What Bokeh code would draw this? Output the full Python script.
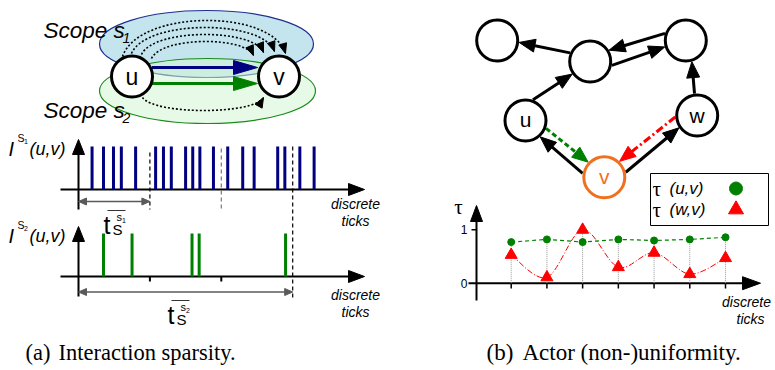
import math
from bokeh.plotting import figure
from bokeh.models import Range1d, Grid
from bokeh.core.properties import value
from bokeh.embed import file_html
from bokeh.resources import INLINE

W, H = 775, 370

# ---------------- data ----------------
# (a) interaction events of u->v on the discrete tick axis, per scope
s1_events = [1.9, 3.5, 4.9, 6.0, 8.0, 10.8, 11.9, 13.0, 15.0, 16.0, 17.0,
             18.9, 20.9, 23.0, 24.6, 27.9, 28.9, 31.0, 33.0]
s2_events = [3.5, 7.5, 15.9, 16.9, 29.0]
period_marks = [10, 20, 30]          # tick boundaries shown as dashed lines
t_bar_s1 = 10                        # mean interaction gap, scope s1
t_bar_s2 = 30                        # mean interaction gap, scope s2
# (b) actor uniformity tau over discrete ticks
tau_ticks = [1, 2, 3, 4, 5, 6, 7]
tau_uv = [0.77, 0.82, 0.77, 0.82, 0.80, 0.82, 0.86]
tau_wv = [0.53, 0.11, 1.00, 0.30, 0.57, 0.17, 0.47]
tau_tick_values = [0, 1]
tau_tick_labels = ["0", "1"]


def rng(v0, p0, v1, p1, total, vertical=False):
    k = (v1 - v0) / (p1 - p0)
    a = v0 - p0 * k
    b = v0 + (total - p0) * k
    return Range1d(b, a) if vertical else Range1d(a, b)


p = figure(width=W, height=H, x_range=Range1d(0, W), y_range=Range1d(H, 0),
           output_backend="svg", toolbar_location=None, min_border=0,
           x_axis_location=None, y_axis_location=None)
p.outline_line_color = None
p.background_fill_color = "white"
p.border_fill_color = "white"
for r in list(p.renderers) + list(p.center):
    if isinstance(r, Grid):
        r.visible = False
p.xgrid.visible = False
p.ygrid.visible = False

p.extra_x_ranges = {"tl": rng(0, 78, 10, 149.4, W), "tk": rng(1, 510.7, 7, 725, W)}
p.extra_y_ranges = {"i1": rng(0, 189, 1, 146, H, True),
                    "i2": rng(0, 276, 1, 233, H, True),
                    "tau": rng(0, 282.7, 1, 229.3, H, True)}

SANS = value("Liberation Sans")
SERIF = value("Liberation Serif")


def txt(x, yb, s, size, font=SANS, style="normal", align="left",
        color="black", xr="default", yr="default"):
    """yb is the intended alphabetic baseline; drawn with middle baseline."""
    p.text(x=[x], y=[yb - 0.30 * size], text=[s], text_font=font,
           text_font_size=f"{size}px", text_font_style=style, text_align=align,
           text_baseline="middle", text_color=color, x_range_name=xr, y_range_name=yr)


def ctxt(x, y, s, size, font=SANS, style="normal", align="center", color="black"):
    p.text(x=[x], y=[y], text=[s], text_font=font, text_font_size=f"{size}px",
           text_font_style=style, text_align=align, text_baseline="middle",
           text_color=color)


def head(tx, ty, ux, uy, L, Wd, color):
    bx, by = tx - ux * L, ty - uy * L
    nx, ny = -uy, ux
    p.patch([tx, bx + nx * Wd / 2, bx - nx * Wd / 2],
            [ty, by + ny * Wd / 2, by - ny * Wd / 2],
            fill_color=color, line_color=color, line_width=1)


def arrow(x0, y0, x1, y1, color="black", lw=2, dash="solid", L=14, Wd=12, both=False):
    d = math.hypot(x1 - x0, y1 - y0)
    ux, uy = (x1 - x0) / d, (y1 - y0) / d
    sx, sy = (x0 + ux * L * 0.7, y0 + uy * L * 0.7) if both else (x0, y0)
    p.line([sx, x1 - ux * L * 0.7], [sy, y1 - uy * L * 0.7],
           line_color=color, line_width=lw, line_dash=dash)
    head(x1, y1, ux, uy, L, Wd, color)
    if both:
        head(x0, y0, -ux, -uy, L, Wd, color)


# ================= panel (a) =================
p.ellipse(x=[206], y=[43.5], width=[214], height=[67], fill_color="#c4e5ee",
          line_color="#1f2f8f", line_width=1.2)
p.ellipse(x=[207], y=[90.5], width=[216], height=[65], fill_color="#d4f5d4",
          fill_alpha=0.55, line_color="#1a8a1a", line_width=1.2)

arcs = [(122, 56, 285, 53, 20), (131, 53, 274, 51, 27), (141, 54, 263, 52, 34),
        (151, 58, 253, 55, 41), (142, 97, 263, 97, 110)]
for sx, sy, ex, ey, pk in arcs:
    h = (pk - 0.125 * sy - 0.125 * ey) / 0.75
    c0x, c1x = sx + 0.1 * (ex - sx), ex - 0.08 * (ex - sx)
    p.bezier(x0=[sx], y0=[sy], x1=[ex], y1=[ey], cx0=[c0x], cy0=[h], cx1=[c1x], cy1=[h],
             line_color="black", line_width=1.6, line_dash="2 2")
    d = math.hypot(ex - c1x, ey - h)
    head(ex, ey, (ex - c1x) / d, (ey - h) / d, 10, 8, "black")

arrow(151.5, 67, 257, 67, "#000080", 3, L=24, Wd=14)
arrow(151.5, 83, 257, 83, "#008000", 3, L=24, Wd=14)

p.circle(x=[131.5, 278.5], y=[76, 76], radius=20.5, fill_color="white",
         line_color="black", line_width=3)
ctxt(131.5, 76, "u", 23)
ctxt(278.5, 76, "v", 23)

txt(43, 37, "Scope s", 22.5, style="italic")
txt(122, 42, "1", 14, style="italic")
txt(43, 117, "Scope s", 22.5, style="italic")
txt(122, 122, "2", 14, style="italic")

for base, top, bottom in [(189, 139, 209), (276, 226, 296)]:
    arrow(60, base, 364, base, "black", 2, L=16, Wd=12)
    arrow(78, bottom, 78, top, "black", 2, L=15, Wd=12)

p.segment(x0=s1_events, y0=[0] * len(s1_events), x1=s1_events, y1=[1] * len(s1_events),
          x_range_name="tl", y_range_name="i1", line_color="#000080", line_width=3)
p.segment(x0=s2_events, y0=[0] * len(s2_events), x1=s2_events, y1=[1] * len(s2_events),
          x_range_name="tl", y_range_name="i2", line_color="#008000", line_width=3)

p.segment(x0=period_marks, y0=[152, 148, 146], x1=period_marks, y1=[209, 209, 297],
          x_range_name="tl", line_color=["black", "#777777", "black"],
          line_width=1.2, line_dash="4 3")
p.segment(x0=period_marks[:2], y0=[276, 276], x1=period_marks[:2], y1=[281, 281],
          x_range_name="tl", line_color="black", line_width=2)

tl = p.extra_x_ranges["tl"]
k_tl = W / (tl.end - tl.start)
for tb, yy in [(t_bar_s1, 201), (t_bar_s2, 291.5)]:
    x_end = (tb - tl.start) * k_tl
    arrow(78, yy, x_end, yy, "#5a5a5a", 1.5, L=8, Wd=7, both=True)


def tbar(x, yb, sub):
    txt(x, yb, "t", 25)
    txt(x + 9, yb + 1, "S", 15)
    txt(x + 13, yb - 12, "s", 11)
    txt(x + 18.5, yb - 10, sub, 7)
    p.line([x + 4, x + 22], [yb - 22, yb - 22], line_color="#333333", line_width=1)


tbar(103, 232, "1")
tbar(167, 322, "2")

for yb, sub in [(154, "1"), (241, "2")]:
    txt(8, yb, "I", 20, style="italic")
    txt(17, yb - 13, "S", 10.5)
    txt(23.5, yb - 11, sub, 7)
    txt(29, yb, "(u,v)", 18, style="italic")

for cx, y1 in [(355, 203), (355, 294)]:
    ctxt(cx, y1, "discrete", 14, style="italic")
    ctxt(cx, y1 + 17, "ticks", 14, style="italic")

txt(25, 359, "(a)", 22.5, font=SERIF)
txt(58, 359, "Interaction sparsity.", 22.5, font=SERIF)

# ================= panel (b) =================
nodes = {"A": (496.7, 40), "B": (589.7, 61), "C": (685.3, 40),
         "u": (525, 120), "w": (696.7, 115), "v": (603.8, 176.7)}
R_OUT = 22


def ring(n, ang):
    cx, cy = nodes[n]
    a = math.radians(ang)
    return cx + R_OUT * math.cos(a), cy + R_OUT * math.sin(a)


edges = [("B", -157, "A", 5, "black", "solid"),
         ("C", -161, "B", -31, "black", "solid"),
         ("B", 10, "C", 163, "black", "solid"),
         ("u", -70, "B", 145, "black", "solid"),
         ("w", -97, "C", 74, "black", "solid"),
         ("v", -170, "u", 48, "black", "solid"),
         ("v", -13, "w", 146, "black", "solid"),
         ("u", 21, "v", -137, "#008000", "5 3"),
         ("w", 176, "v", -46, "#ff0000", "8 3 2 3")]
for a, ta, b, tb_, col, dash in edges:
    x0, y0 = ring(a, ta)
    x1, y1 = ring(b, tb_)
    arrow(x0, y0, x1, y1, col, 3, dash, L=16, Wd=13)

names = list(nodes)
p.circle(x=[nodes[n][0] for n in names], y=[nodes[n][1] for n in names], radius=20.5,
         fill_color="white", line_width=3,
         line_color=["#f07020" if n == "v" else "black" for n in names])
ctxt(525, 119, "u", 21)
ctxt(696.7, 115, "w", 21)
ctxt(603.8, 176, "v", 21, color="#f07020")

p.quad(left=[650], right=[768], top=[173], bottom=[225], fill_color="white",
       line_color="black", line_width=1)
for yy, lab in [(188, "(u,v)"), (209, "(w,v)")]:
    ctxt(652, yy, "τ", 21, font=SERIF, align="left")
    ctxt(669, yy, lab, 17, style="italic", align="left")
p.scatter(x=[735.5], y=[188], size=13, marker="circle", color="#008000")
p.scatter(x=[735.5], y=[209], size=15, marker="triangle", color="#ff0000")

arrow(468, 282.7, 760, 282.7, "black", 2, L=18, Wd=13)
arrow(476, 300, 476, 205, "black", 2, L=16, Wd=12)
ctxt(458, 206, "τ", 21, font=SERIF)
p.segment(x0=[471], y0=[1], x1=[476], y1=[1], y_range_name="tau", line_color="black", line_width=1.5)
p.text(x=[467, 467], y=tau_tick_values, text=tau_tick_labels, y_range_name="tau",
       text_font=SANS, text_font_size="12px", text_align="right", text_baseline="middle")
p.segment(x0=tau_ticks, y0=[282.7] * 7, x1=tau_ticks, y1=[288] * 7, x_range_name="tk",
          line_color="black", line_width=1.5)

tops = [max(a, b) for a, b in zip(tau_uv, tau_wv)]
p.segment(x0=tau_ticks, y0=[0] * 7, x1=tau_ticks, y1=tops, x_range_name="tk",
          y_range_name="tau", line_color="#999999", line_width=1, line_dash="1 1")
p.line(tau_ticks, tau_uv, x_range_name="tk", y_range_name="tau",
       line_color="#008000", line_width=1.2, line_dash="4 3")

n = len(tau_ticks)
bx0, by0, bx1, by1, cx0, cy0, cx1, cy1 = ([] for _ in range(8))
for i in range(n - 1):
    P0 = (tau_ticks[max(i - 1, 0)], tau_wv[max(i - 1, 0)])
    P1 = (tau_ticks[i], tau_wv[i])
    P2 = (tau_ticks[i + 1], tau_wv[i + 1])
    P3 = (tau_ticks[min(i + 2, n - 1)], tau_wv[min(i + 2, n - 1)])
    bx0.append(P1[0]); by0.append(P1[1]); bx1.append(P2[0]); by1.append(P2[1])
    cx0.append(P1[0] + (P2[0] - P0[0]) / 6); cy0.append(P1[1] + (P2[1] - P0[1]) / 6)
    cx1.append(P2[0] - (P3[0] - P1[0]) / 6); cy1.append(P2[1] - (P3[1] - P1[1]) / 6)
p.bezier(x0=bx0, y0=by0, x1=bx1, y1=by1, cx0=cx0, cy0=cy0, cx1=cx1, cy1=cy1,
         x_range_name="tk", y_range_name="tau", line_color="#ff0000",
         line_width=1, line_dash="6 2 1 2")
p.scatter(tau_ticks, tau_uv, x_range_name="tk", y_range_name="tau", marker="circle",
          size=7, color="#008000")
p.scatter(tau_ticks, tau_wv, x_range_name="tk", y_range_name="tau", marker="triangle",
          size=12, color="#ff0000")

ctxt(746, 301, "discrete", 14, style="italic")
ctxt(750, 318, "ticks", 14, style="italic")

txt(486, 359, "(b)", 23, font=SERIF)
txt(522, 359, "Actor (non-)uniformity.", 23, font=SERIF)

open("out.html", "w").write(file_html(p, INLINE))
